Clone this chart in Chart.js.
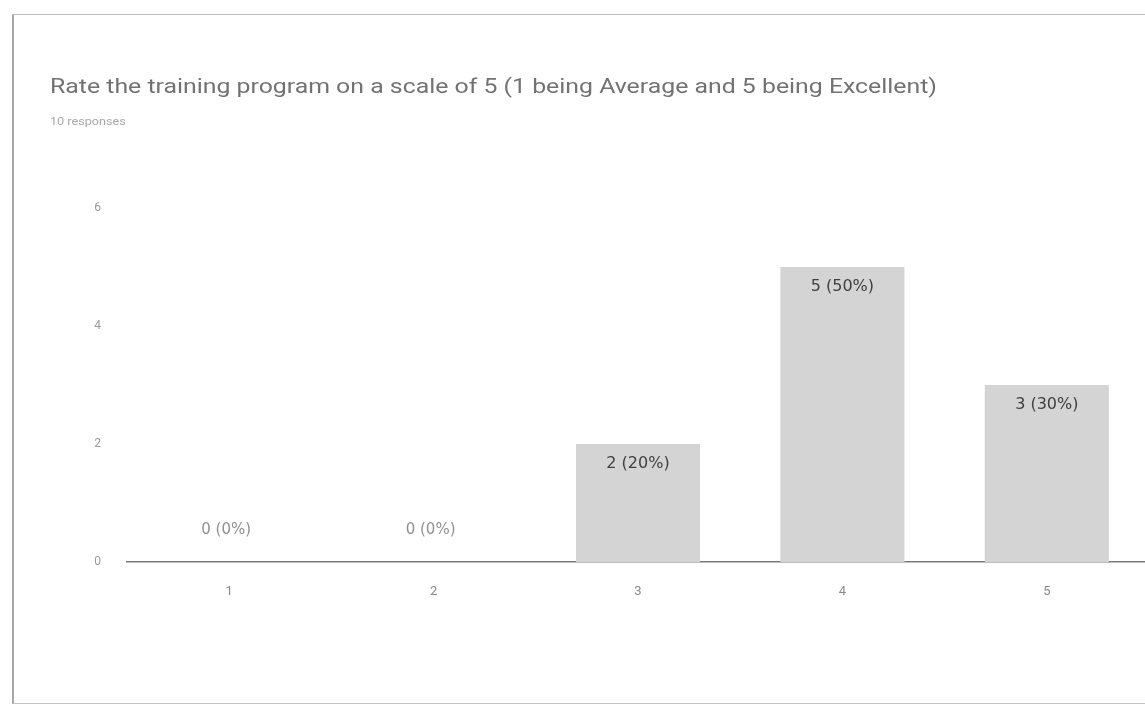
<!DOCTYPE html>
<html>
<head>
<meta charset="utf-8">
<script src="https://cdn.jsdelivr.net/npm/chart.js@4"></script>
<style>
  html, body { margin:0; padding:0; width:1145px; height:707px; overflow:hidden; background:#fff; }
  #frame { position:absolute; left:12px; top:14px; width:1150px; height:688px;
           border-left:2px solid #a8a8a8; border-top:1px solid #bcbcbc; border-bottom:1px solid #c4c4c4; }
  #title { position:absolute; left:50px; top:74px; font-family:Roboto, sans-serif; font-size:20px;
           color:#727272; white-space:nowrap; transform-origin:0 0; }
  #sub { position:absolute; left:50px; top:115px; font-family:Roboto, sans-serif; font-size:11px; color:#a8a8a8;
         transform-origin:0 0; transform:scaleX(1.15); }
  #wrap { position:absolute; left:0; top:0; width:1160px; height:707px; }
</style>
</head>
<body>
<div id="frame"></div>
<div id="wrap"><canvas id="c" width="1160" height="707"></canvas></div>
<div id="title">Rate the training program on a scale of 5 (1 being Average and 5 being Excellent)</div>
<div id="sub">10 responses</div>
<script>
const categories = ["1", "2", "3", "4", "5"];
const counts = [0, 0, 2, 5, 3];
const labels = ["0 (0%)", "0 (0%)", "2 (20%)", "5 (50%)", "3 (30%)"];
const yTicks = [0, 2, 4, 6];

// stretch title to match reference width
(function () {
  const t = document.getElementById('title');
  const w = t.getBoundingClientRect().width;
  t.style.transform = 'scaleX(' + (887 / w) + ')';
})();

const barLabels = {
  id: 'barLabels',
  afterDatasetsDraw(chart) {
    const ctx = chart.ctx;
    const meta = chart.getDatasetMeta(0);
    ctx.save();
    ctx.textAlign = 'center';
    ctx.textBaseline = 'middle';
    meta.data.forEach((bar, i) => {
      const v = counts[i];
      if (v === 0) {
        ctx.font = '15px "DejaVu Sans", sans-serif';
        ctx.fillStyle = '#909090';
        ctx.fillText(labels[i], bar.x - 3, bar.base - 32);
      } else {
        ctx.font = '16px "DejaVu Sans", sans-serif';
        ctx.fillStyle = '#404040';
        ctx.fillText(labels[i], bar.x, bar.y + 20);
      }
    });
    ctx.restore();
  }
};

new Chart(document.getElementById('c'), {
  type: 'bar',
  data: {
    labels: categories,
    datasets: [{
      data: counts,
      backgroundColor: '#d4d4d4',
      borderWidth: 0,
      categoryPercentage: 1.0,
      barPercentage: 0.607
    }]
  },
  options: {
    responsive: false,
    animation: false,
    layout: { padding: { top: 208, right: 11, left: 0, bottom: 0 } },
    plugins: { legend: { display: false }, tooltip: { enabled: false } },
    scales: {
      x: {
        grid: { display: false, drawTicks: false },
        border: { display: true, color: '#7a7a7a', width: 1.5 },
        ticks: { color: '#8a8a8a', font: { family: 'Roboto', size: 13 }, padding: 22 },
        afterFit(s) { s.height = 145; }
      },
      y: {
        min: 0, max: 6,
        afterBuildTicks(s) { s.ticks = yTicks.map(v => ({ value: v })); },
        grid: { display: false, drawTicks: false },
        border: { display: false },
        ticks: { color: '#9a9a9a', font: { family: 'Roboto', size: 12 }, padding: 26 },
        afterFit(s) { s.width = 127; }
      }
    }
  },
  plugins: [barLabels]
});
</script>
</body>
</html>
